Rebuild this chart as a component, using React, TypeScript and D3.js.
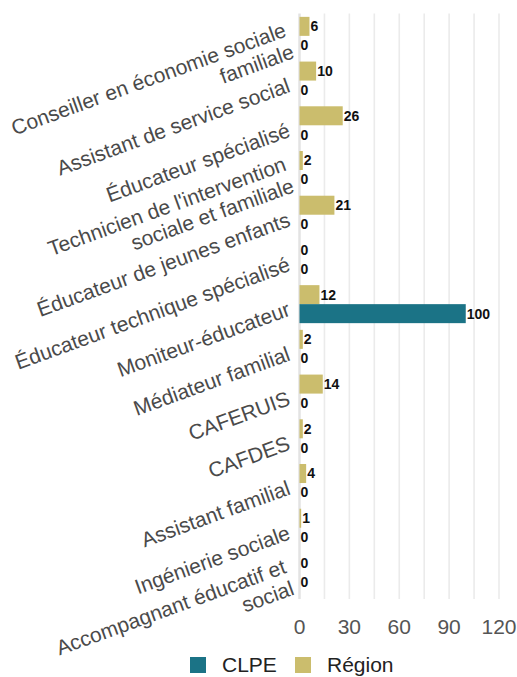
import React from "react";
import * as d3 from "d3";

// Training programmes (line breaks mark the wrapped label lines)
const categories = [
  "Conseiller en économie sociale\nfamiliale",
  "Assistant de service social",
  "Éducateur spécialisé",
  "Technicien de l'intervention\nsociale et familiale",
  "Éducateur de jeunes enfants",
  "Éducateur technique spécialisé",
  "Moniteur-éducateur",
  "Médiateur familial",
  "CAFERUIS",
  "CAFDES",
  "Assistant familial",
  "Ingénierie sociale",
  "Accompagnant éducatif et\nsocial",
];

const seriesNames = ["Région", "CLPE"];
const regionValues = [6, 10, 26, 2, 21, 0, 12, 2, 14, 2, 4, 1, 0];
const clpeValues = [0, 0, 0, 0, 0, 0, 100, 0, 0, 0, 0, 0, 0];

const xTicks = [0, 30, 60, 90, 120];
const gridValues = [0, 15, 30, 45, 60, 75, 90, 105, 120];

const colors: Record<string, string> = {
  "Région": "#cbbd6d",
  CLPE: "#1b7386",
};

const legendOrder = ["CLPE", "Région"];

const W = 517;
const H = 677;
const FONT = "'Liberation Sans', Arial, sans-serif";

export default function App() {
  const x = d3.scaleLinear().domain([0, 120]).range([299.5, 499]);
  const y = d3.scaleBand<string>().domain(categories).range([13.5, 594.8]).padding(0);
  const bw = y.bandwidth();
  const inner = d3
    .scaleBand<string>()
    .domain(seriesNames)
    .range([bw / 2 - 19, bw / 2 + 19])
    .padding(0);

  const valuesBySeries: Record<string, number[]> = {
    "Région": regionValues,
    CLPE: clpeValues,
  };

  const top = 13.5;
  const bottom = 599;

  return (
    <svg
      width={W}
      height={H}
      style={{ position: "absolute", left: 0, top: 0, background: "#fff" }}
      fontFamily={FONT}
    >
      {/* vertical grid */}
      {gridValues.map((g) => (
        <line
          key={"g" + g}
          x1={x(g)}
          x2={x(g)}
          y1={top}
          y2={bottom}
          stroke={g === 0 ? "#e3e3e3" : "#ebebeb"}
          strokeWidth={g === 0 ? 2.5 : 1.6}
        />
      ))}

      {/* bars */}
      {categories.map((c, i) => (
        <g key={"c" + i} transform={`translate(0,${y(c)})`}>
          {seriesNames.map((s) => {
            const v = valuesBySeries[s][i];
            const y0 = inner(s)!;
            const h = inner.bandwidth();
            return (
              <g key={s}>
                <rect
                  x={x(0)}
                  y={y0}
                  width={Math.max(0, x(v) - x(0))}
                  height={h}
                  fill={colors[s]}
                />
                <text
                  x={x(v) + 1}
                  y={y0 + h / 2}
                  dy="0.35em"
                  fontSize={14}
                  fontWeight="bold"
                  fill="#111"
                >
                  {v}
                </text>
              </g>
            );
          })}
        </g>
      ))}

      {/* category labels */}
      {categories.map((c, i) => {
        const lines = c.split("\n");
        const cy = y(c)! + bw / 2 + 4;
        const lh = 23;
        const start = -((lines.length - 1) * lh) / 2;
        return (
          <g key={"l" + i} transform={`translate(289,${cy}) rotate(-20)`}>
            {lines.map((ln, k) => (
              <text
                key={k}
                x={0}
                y={start + k * lh}
                dy="0.35em"
                textAnchor="end"
                fontSize={21}
                fill="#4a4a4a"
              >
                {ln}
              </text>
            ))}
          </g>
        );
      })}

      {/* x tick labels */}
      {xTicks.map((t) => (
        <text
          key={"t" + t}
          x={x(t)}
          y={634}
          textAnchor="middle"
          fontSize={21}
          fill="#555"
        >
          {t}
        </text>
      ))}

      {/* legend */}
      {legendOrder.map((s, k) => {
        const lx = k === 0 ? 190 : 295;
        return (
          <g key={"lg" + s}>
            <rect x={lx} y={657} width={16} height={16} fill={colors[s]} />
            <text x={lx + 32} y={672} fontSize={21} fill="#222">
              {s}
            </text>
          </g>
        );
      })}
    </svg>
  );
}
